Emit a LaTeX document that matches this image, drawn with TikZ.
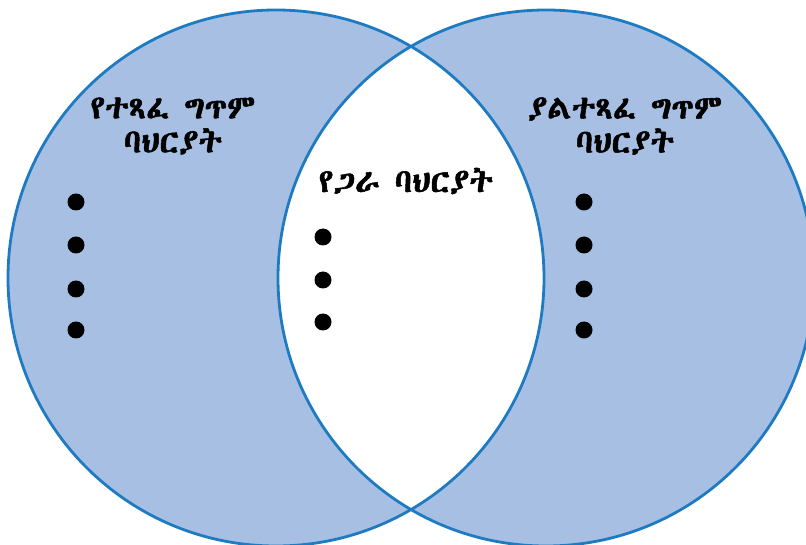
\documentclass[tikz,border=0pt]{standalone}
\usepackage{fontspec}
\usepackage{xcolor}
\IfFontExistsTF{Abyssinica SIL}{\newfontfamily\ethfont{Abyssinica SIL}[FakeBold=1.5]}{%
 \IfFontExistsTF{FreeSerif}{\newfontfamily\ethfont{FreeSerif}[FakeBold=1.5]}{%
  \newfontfamily\ethfont{DejaVu Sans}}}
\definecolor{vennfill}{HTML}{A7BFE3}
\definecolor{vennline}{HTML}{1E7BC2}

\begin{document}
\begin{tikzpicture}[x=1pt,y=-1pt,every node/.style={font=\ethfont\fontsize{33}{34}\selectfont,align=center}]
\useasboundingbox (0,0) rectangle (806,545);
\clip (0,0) rectangle (806,545);
\coordinate (l) at (276,278);\coordinate (r) at (546,278);
\fill[vennfill] (l) circle(268) (r) circle(268);
\begin{scope}
\clip (l) circle(268);
\fill[white] (r) circle(268);
\end{scope}
\draw[vennline,line width=2.8pt] (l) circle(268) (r) circle(268);
\node (lt) at (173,126) {የተጻፈ ግጥም\\ባህርያት};
\node (rt) at (625,126) {ያልተጻፈ ግጥም\\ባህርያት};
\node (mt) at (406,181) {የጋራ ባህርያት};
\foreach \y in {202,245,289,330}{\fill (76,\y) circle(8.5);\fill (584,\y) circle(8.5);}
\foreach \y in {237,280,322}{\fill (323,\y) circle(8.5);}
\end{tikzpicture}
\end{document}
